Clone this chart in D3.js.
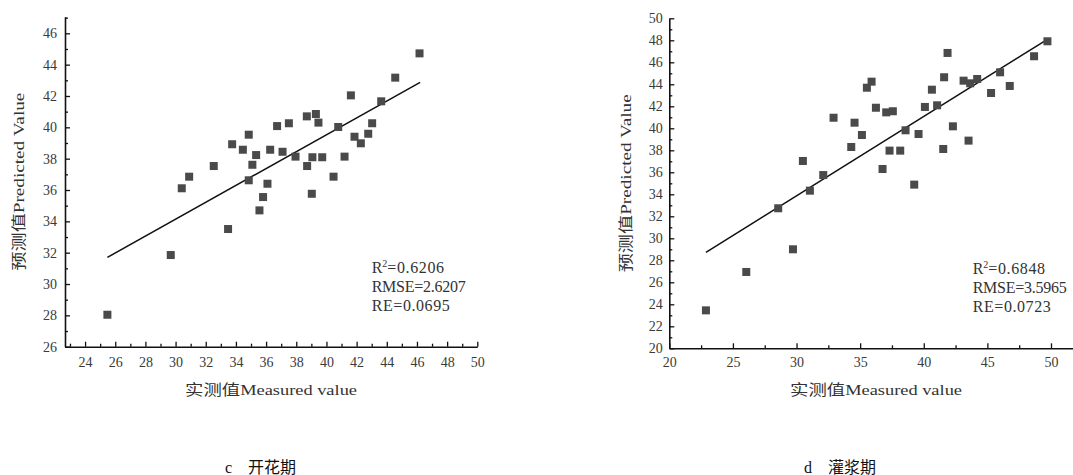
<!DOCTYPE html>
<html>
<head>
<meta charset="utf-8">
<script src="https://cdn.jsdelivr.net/npm/d3@7/dist/d3.min.js"></script>
<style>
  body { margin: 0; background: #fff; }
  svg text { font-family: "Liberation Serif", "Noto Sans CJK SC", serif; fill: #222; }
</style>
</head>
<body>
<div id="svg-area"></div>
<script>
// ---- data ----
// c 开花期
var cMeasured = [30.41, 30.90, 32.53, 33.75, 34.46, 34.85, 34.85, 35.09, 35.34, 35.56,
  35.80, 36.09, 36.27, 36.73, 37.09, 37.51, 37.95, 38.70, 38.72, 39.03,
  39.07, 39.30, 39.47, 39.72, 40.47, 40.78, 41.20, 41.62, 41.86, 42.28,
  42.77, 43.03, 43.63, 44.56, 46.17, 25.48, 29.68, 33.48];
var cPredicted = [36.11, 36.85, 37.53, 38.92, 38.57, 39.53, 36.62, 37.61, 38.23, 34.70,
  35.55, 36.40, 38.57, 40.08, 38.44, 40.26, 38.13, 40.70, 37.53, 35.76,
  38.09, 40.85, 40.30, 38.09, 36.85, 40.02, 38.13, 42.04, 39.40, 38.98,
  39.59, 40.26, 41.66, 43.17, 44.72, 28.04, 31.85, 33.51];
var cFitX = [25.48, 46.21];
var cFitY = [31.70, 42.87];
var cStats = ["0.6206", "2.6207", "0.0695"];
var cXTicks = [24, 26, 28, 30, 32, 34, 36, 38, 40, 42, 44, 46, 48, 50];
var cXMinor = [23, 25, 27, 29, 31, 33, 35, 37, 39, 41, 43, 45, 47, 49];
var cYTicks = [26, 28, 30, 32, 34, 36, 38, 40, 42, 44, 46];
var cYMinor = [27, 29, 31, 33, 35, 37, 39, 41, 43, 45, 47];

// d 灌浆期
var dMeasured = [28.56, 30.50, 31.05, 32.10, 32.91, 34.30, 34.56, 35.14, 35.53, 35.90,
  36.24, 36.76, 37.05, 37.57, 37.31, 38.15, 38.57, 39.25, 39.59, 40.09,
  40.64, 41.05, 41.53, 41.60, 41.87, 42.29, 43.13, 43.52, 43.65, 44.20,
  45.29, 46.00, 46.76, 48.67, 49.72, 22.88, 26.05, 29.72];
var dPredicted = [32.73, 37.03, 34.33, 35.75, 40.96, 38.30, 40.51, 39.39, 43.69, 44.24,
  41.87, 36.30, 41.45, 41.55, 37.97, 37.97, 39.82, 34.88, 39.48, 41.94,
  43.51, 42.09, 38.12, 44.64, 46.85, 40.18, 44.33, 38.88, 44.09, 44.48,
  43.21, 45.09, 43.85, 46.55, 47.91, 23.45, 26.94, 29.00];
var dFitX = [22.88, 49.72];
var dFitY = [28.73, 48.09];
var dStats = ["0.6848", "3.5965", "0.0723"];
var dXTicks = [20, 25, 30, 35, 40, 45, 50];
var dXMinor = [22.5, 27.5, 32.5, 37.5, 42.5, 47.5];
var dYTicks = [20, 22, 24, 26, 28, 30, 32, 34, 36, 38, 40, 42, 44, 46, 48, 50];
var dYMinor = [21, 23, 25, 27, 29, 31, 33, 35, 37, 39, 41, 43, 45, 47, 49];

var xTitle = "实测值Measured value";
var yTitle = "预测值Predicted Value";

// ---- svg ----
var svgWidth = 1073;
var svgHeight = 475;

var svg = d3.select("#svg-area")
  .append("svg")
  .attr("width", svgWidth)
  .attr("height", svgHeight);

function drawPanel(p) {
  var x = d3.scaleLinear().domain(p.xDomain).range([p.left, p.right]);
  var y = d3.scaleLinear().domain(p.yDomain).range([p.bottom, p.top]);

  var g = svg.append("g");

  // minor ticks
  g.append("g")
    .attr("transform", `translate(0, ${p.bottom})`)
    .call(d3.axisBottom(x).tickValues(p.xMinor).tickSize(-3).tickFormat(""))
    .call(a => a.select(".domain").remove());
  g.append("g")
    .attr("transform", `translate(${p.left}, 0)`)
    .call(d3.axisLeft(y).tickValues(p.yMinor).tickSize(-3).tickFormat(""))
    .call(a => a.select(".domain").remove());

  // major ticks + labels
  var xAxis = g.append("g")
    .attr("transform", `translate(0, ${p.bottom})`)
    .call(d3.axisBottom(x).tickValues(p.xTicks).tickSize(-5).tickSizeOuter(0).tickPadding(p.xPad));
  var yAxis = g.append("g")
    .attr("transform", `translate(${p.left}, 0)`)
    .call(d3.axisLeft(y).tickValues(p.yTicks).tickSize(-5).tickSizeOuter(0).tickPadding(p.yPad));

  [xAxis, yAxis].forEach(function(a) {
    a.selectAll("text").style("font-size", "14px").style("fill", "#3a3a3a");
    a.select(".domain").attr("stroke", "#111").attr("stroke-width", 1.6);
  });
  g.selectAll(".tick line").attr("stroke", "#111").attr("stroke-width", 1.3);

  // fit line
  g.append("line")
    .attr("x1", x(p.fitX[0])).attr("y1", y(p.fitY[0]))
    .attr("x2", x(p.fitX[1])).attr("y2", y(p.fitY[1]))
    .attr("stroke", "#111")
    .attr("stroke-width", 1.5);

  // squares
  var s = 8;
  g.selectAll("rect.pt")
    .data(p.measured)
    .enter()
    .append("rect")
    .attr("class", "pt")
    .attr("x", d => x(d) - s / 2)
    .attr("y", (d, i) => y(p.predicted[i]) - s / 2)
    .attr("width", s)
    .attr("height", s)
    .attr("fill", "#4a4a4a");

  // stats
  var st = g.append("text")
    .attr("x", p.statX)
    .attr("y", p.statY)
    .style("font-size", "16px")
    .style("fill", "#333");
  st.append("tspan").text("R");
  st.append("tspan").attr("dy", -6).style("font-size", "10px").text("2");
  st.append("tspan").attr("dy", 6).attr("letter-spacing", 0.6).text("=" + p.stats[0]);
  g.append("text")
    .attr("x", p.statX).attr("y", p.statY + 19)
    .attr("textLength", 94)
    .style("font-size", "16px").style("fill", "#333")
    .text("RMSE=" + p.stats[1]);
  g.append("text")
    .attr("x", p.statX).attr("y", p.statY + 38)
    .attr("textLength", 78)
    .style("font-size", "16px").style("fill", "#333")
    .text("RE=" + p.stats[2]);

  // axis titles
  g.append("text")
    .attr("x", p.xTitleX)
    .attr("y", 395)
    .attr("text-anchor", "middle")
    .attr("textLength", 172)
    .attr("lengthAdjust", "spacingAndGlyphs")
    .style("font-size", "15px")
    .style("fill", "#333")
    .text(xTitle);

  g.append("text")
    .attr("transform", `translate(${p.yTitleX}, ${(p.top + p.bottom) / 2}) rotate(-90)`)
    .attr("text-anchor", "middle")
    .attr("textLength", 178)
    .attr("lengthAdjust", "spacingAndGlyphs")
    .style("font-size", "15px")
    .style("fill", "#333")
    .text(yTitle);

  // caption
  var cap = svg.append("text")
    .attr("x", p.capX)
    .attr("y", 473)
    .style("font-size", "16px")
    .style("fill", "#111");
  cap.append("tspan").text(p.capLetter);
  cap.append("tspan").attr("dx", 16).text(p.capText);
}

drawPanel({
  measured: cMeasured, predicted: cPredicted,
  fitX: cFitX, fitY: cFitY, stats: cStats,
  xTicks: cXTicks, xMinor: cXMinor, yTicks: cYTicks, yMinor: cYMinor,
  xDomain: [22.67, 50], yDomain: [26, 47.06],
  left: 65, right: 477.3, top: 16.7, bottom: 346.7,
  xPad: 10, yPad: 8,
  statX: 371.7, statY: 272.5,
  xTitleX: 271, yTitleX: 23.5,
  capX: 225, capLetter: "c", capText: "开花期"
});

drawPanel({
  measured: dMeasured, predicted: dPredicted,
  fitX: dFitX, fitY: dFitY, stats: dStats,
  xTicks: dXTicks, xMinor: dXMinor, yTicks: dYTicks, yMinor: dYMinor,
  xDomain: [20, 51.73], yDomain: [20, 50],
  left: 669.3, right: 1073, top: 18.3, bottom: 348.3,
  xPad: 9, yPad: 6.6,
  statX: 972.7, statY: 274,
  xTitleX: 876, yTitleX: 630.5,
  capX: 804, capLetter: "d", capText: "灌浆期"
});
</script>
</body>
</html>
